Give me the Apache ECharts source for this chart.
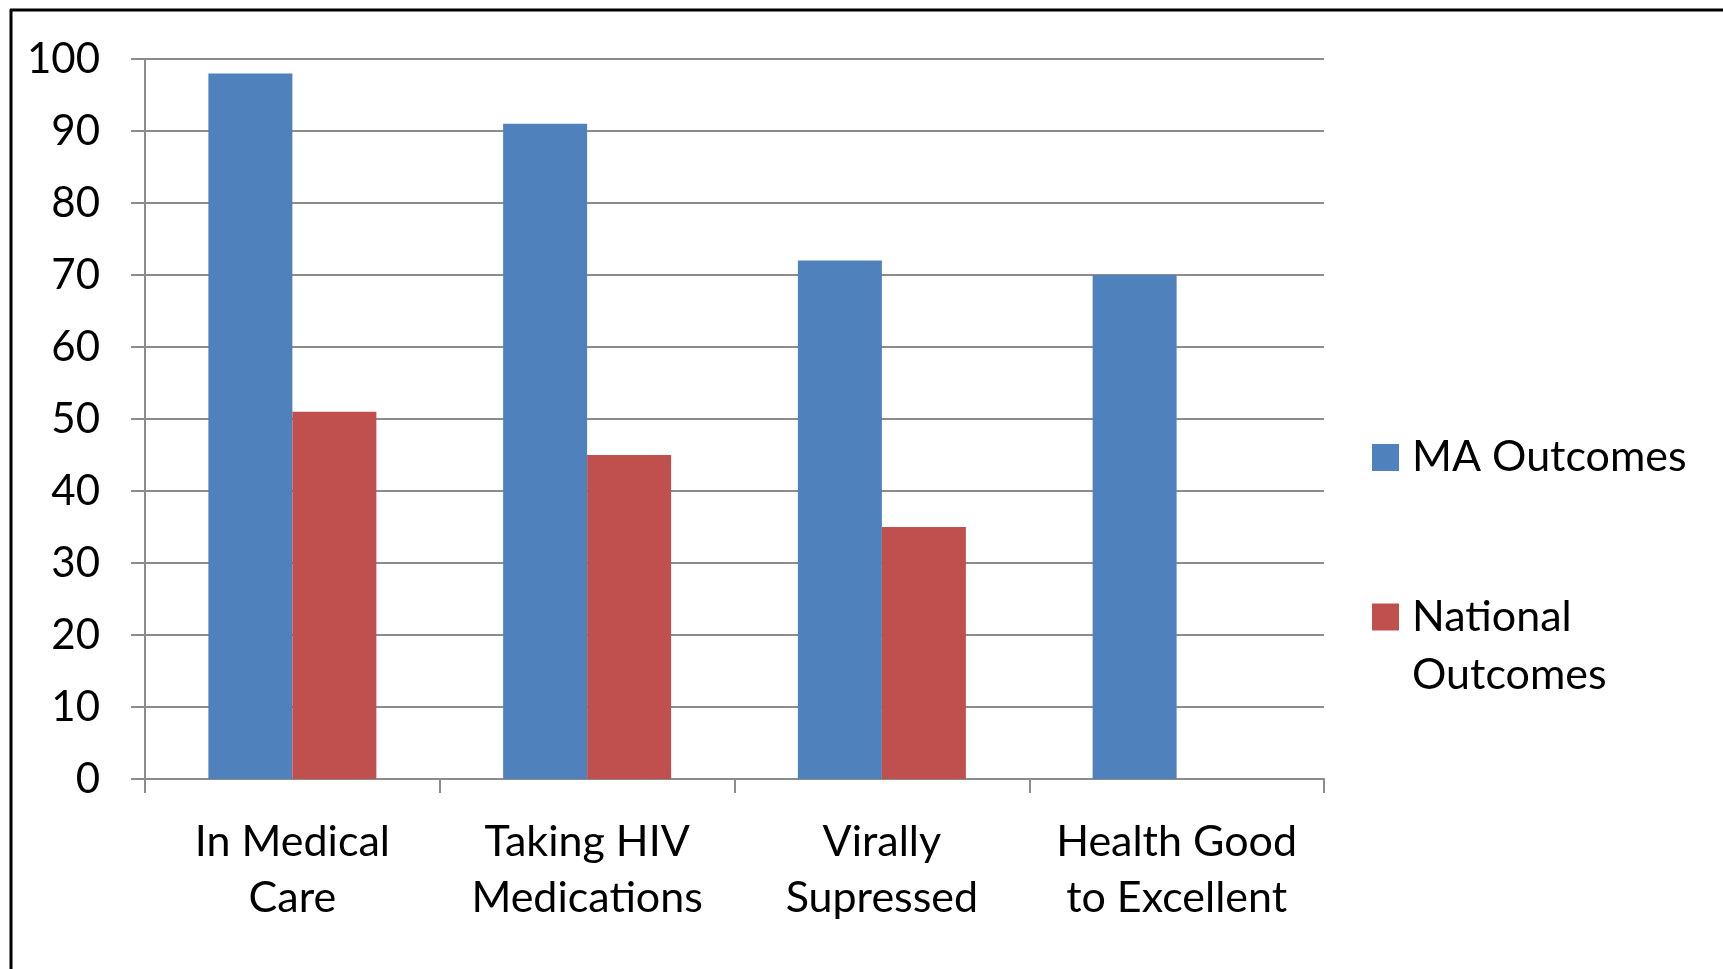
<!DOCTYPE html>
<html>
<head>
<meta charset="utf-8">
<script src="https://cdn.jsdelivr.net/npm/echarts@6/dist/echarts.min.js"></script>
<style>
  html, body { margin: 0; padding: 0; background: #fff; }
  #chart { width: 1723px; height: 969px; }
</style>
</head>
<body>
<div id="chart"></div>
<script>
// Outcome categories along the x axis
const categories = ['In Medical\nCare', 'Taking HIV\nMedications', 'Virally\nSupressed', 'Health Good\nto Excellent'];
// Percentages for Massachusetts and the national comparison
const maOutcomes = [98, 91, 72, 70];
const nationalOutcomes = [51, 45, 35, null];
// Value axis range
const yMin = 0, yMax = 100, yStep = 10;

const FONT = 'Lato';
const GRID_COLOR = '#8c8c8c';

const chart = echarts.init(document.getElementById('chart'), null, { renderer: 'canvas' });

chart.setOption({
  animation: false,
  backgroundColor: '#ffffff',
  textStyle: { fontFamily: FONT },
  grid: { left: 145, right: 399, top: 59, bottom: 190, containLabel: false },
  xAxis: {
    type: 'category',
    data: categories,
    axisLine: { show: true, lineStyle: { color: GRID_COLOR, width: 2 } },
    axisTick: { show: true, length: 14, alignWithLabel: false, lineStyle: { color: GRID_COLOR, width: 2 } },
    axisLabel: { color: '#000', fontSize: 43, fontFamily: FONT, lineHeight: 56, margin: 35, interval: 0 },
    splitLine: { show: false }
  },
  yAxis: {
    type: 'value',
    min: yMin, max: yMax, interval: yStep,
    axisLine: { show: true, lineStyle: { color: GRID_COLOR, width: 2 } },
    axisTick: { show: true, length: 14, lineStyle: { color: GRID_COLOR, width: 2 } },
    axisLabel: { color: '#000', fontSize: 42, fontFamily: FONT, margin: 45 },
    splitLine: { show: true, lineStyle: { color: GRID_COLOR, width: 2 } }
  },
  legend: [
    {
      orient: 'vertical', left: 1372, top: 436, padding: 0,
      itemWidth: 27, itemHeight: 27, itemGap: 0,
      icon: 'rect',
      textStyle: { color: '#000', fontSize: 43, fontFamily: FONT, padding: [0, 0, 0, 8] },
      data: ['MA Outcomes']
    },
    {
      // leading blank line keeps the marker beside the first line of the name
      orient: 'vertical', left: 1372, top: 530, padding: 0,
      itemWidth: 27, itemHeight: 27, itemGap: 0,
      icon: 'rect',
      formatter: function (name) { return '\n' + name.replace(' ', '\n'); },
      textStyle: { color: '#000', fontSize: 43, fontFamily: FONT, lineHeight: 58, padding: [0, 0, 0, 8] },
      data: ['National Outcomes']
    }
  ],
  series: [
    {
      name: 'MA Outcomes', type: 'bar', data: maOutcomes,
      barGap: '0%', barCategoryGap: '43%',
      itemStyle: { color: '#4F81BD' }
    },
    {
      name: 'National Outcomes', type: 'bar', data: nationalOutcomes,
      barGap: '0%', barCategoryGap: '43%',
      itemStyle: { color: '#C0504D' }
    }
  ],
  graphic: [
    // frame along the top and left edges
    { type: 'line', shape: { x1: 10, y1: 10, x2: 1723, y2: 10 }, style: { stroke: '#000', lineWidth: 3 } },
    { type: 'line', shape: { x1: 11, y1: 9, x2: 11, y2: 969 }, style: { stroke: '#000', lineWidth: 3 } }
  ]
});
</script>
</body>
</html>
